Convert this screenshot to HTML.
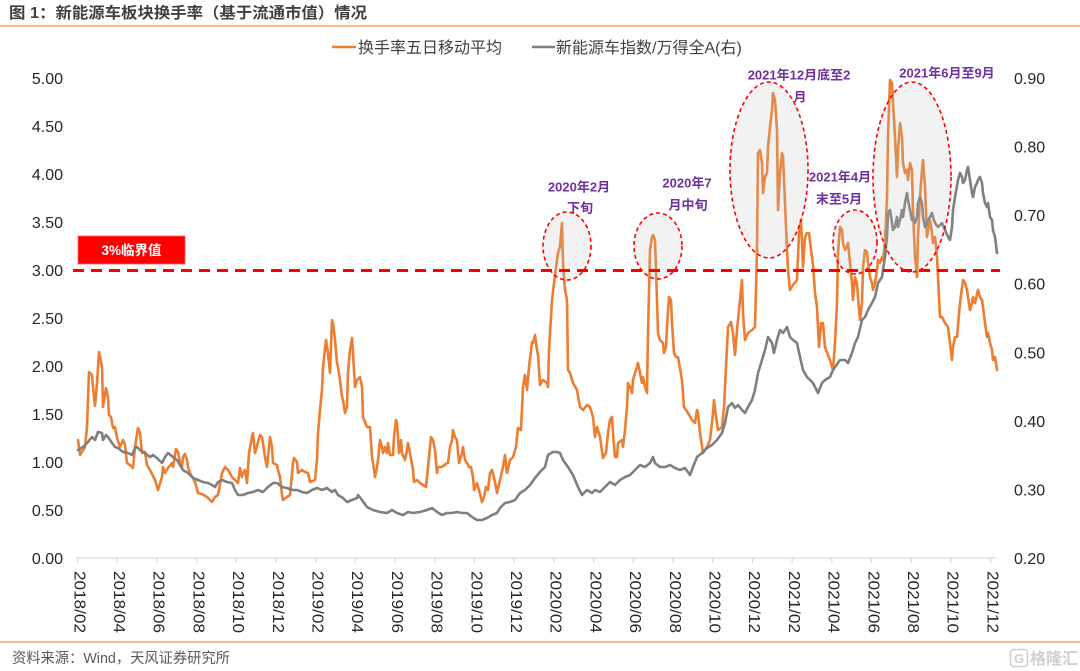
<!DOCTYPE html>
<html>
<head>
<meta charset="utf-8">
<style>
html,body{margin:0;padding:0;background:#fff;}
svg{display:block;}
text{font-family:"Liberation Sans","Noto Sans CJK SC",sans-serif;}
</style>
</head>
<body>
<svg width="1080" height="671" viewBox="0 0 1080 671" xmlns="http://www.w3.org/2000/svg">
<rect x="0" y="0" width="1080" height="671" fill="#fff"/>
<!-- title -->
<text x="9" y="18" font-size="15.5" font-weight="bold" fill="#404040" textLength="358" lengthAdjust="spacingAndGlyphs">图 1：新能源车板块换手率（基于流通市值）情况</text>
<line x1="0" y1="26" x2="1080" y2="26" stroke="#F5A862" stroke-width="1.5"/>
<!-- legend -->
<line x1="332" y1="47" x2="356" y2="47" stroke="#ED7D31" stroke-width="2.5"/>
<text x="358" y="53" font-size="16" fill="#404040">换手率五日移动平均</text>
<line x1="532" y1="47" x2="555" y2="47" stroke="#7F7F7F" stroke-width="2.5"/>
<text x="556" y="53" font-size="16" fill="#404040">新能源车指数/万得全A(右)</text>
<!-- left axis -->
<g font-size="16" fill="#262626" text-anchor="end">
<text x="63" y="84">5.00</text>
<text x="63" y="132">4.50</text>
<text x="63" y="180">4.00</text>
<text x="63" y="228">3.50</text>
<text x="63" y="276">3.00</text>
<text x="63" y="324">2.50</text>
<text x="63" y="372">2.00</text>
<text x="63" y="420">1.50</text>
<text x="63" y="468">1.00</text>
<text x="63" y="516">0.50</text>
<text x="63" y="564">0.00</text>
</g>
<!-- right axis -->
<g font-size="16" fill="#262626" text-anchor="start">
<text x="1014" y="84">0.90</text>
<text x="1014" y="152.6">0.80</text>
<text x="1014" y="221.1">0.70</text>
<text x="1014" y="289.7">0.60</text>
<text x="1014" y="358.3">0.50</text>
<text x="1014" y="426.9">0.40</text>
<text x="1014" y="495.4">0.30</text>
<text x="1014" y="564">0.20</text>
</g>
<!-- x axis -->
<line x1="76" y1="558" x2="996" y2="558" stroke="#D9D9D9" stroke-width="1.2"/>
<g stroke="#D9D9D9" stroke-width="1.2">
<line x1="77.5" y1="558" x2="77.5" y2="563"/><line x1="117.2" y1="558" x2="117.2" y2="563"/><line x1="156.9" y1="558" x2="156.9" y2="563"/><line x1="196.6" y1="558" x2="196.6" y2="563"/><line x1="236.3" y1="558" x2="236.3" y2="563"/><line x1="276" y1="558" x2="276" y2="563"/><line x1="315.7" y1="558" x2="315.7" y2="563"/><line x1="355.4" y1="558" x2="355.4" y2="563"/><line x1="395.1" y1="558" x2="395.1" y2="563"/><line x1="434.8" y1="558" x2="434.8" y2="563"/><line x1="474.5" y1="558" x2="474.5" y2="563"/><line x1="514.2" y1="558" x2="514.2" y2="563"/><line x1="553.9" y1="558" x2="553.9" y2="563"/><line x1="593.6" y1="558" x2="593.6" y2="563"/><line x1="633.3" y1="558" x2="633.3" y2="563"/><line x1="673" y1="558" x2="673" y2="563"/><line x1="712.7" y1="558" x2="712.7" y2="563"/><line x1="752.4" y1="558" x2="752.4" y2="563"/><line x1="792.1" y1="558" x2="792.1" y2="563"/><line x1="831.8" y1="558" x2="831.8" y2="563"/><line x1="871.5" y1="558" x2="871.5" y2="563"/><line x1="911.2" y1="558" x2="911.2" y2="563"/><line x1="950.9" y1="558" x2="950.9" y2="563"/><line x1="990.6" y1="558" x2="990.6" y2="563"/>
</g>
<g font-size="16" fill="#262626">
<text transform="translate(80,571) rotate(90)" y="5.7" textLength="62" lengthAdjust="spacingAndGlyphs">2018/02</text>
<text transform="translate(119.7,571) rotate(90)" y="5.7" textLength="62" lengthAdjust="spacingAndGlyphs">2018/04</text>
<text transform="translate(159.4,571) rotate(90)" y="5.7" textLength="62" lengthAdjust="spacingAndGlyphs">2018/06</text>
<text transform="translate(199.1,571) rotate(90)" y="5.7" textLength="62" lengthAdjust="spacingAndGlyphs">2018/08</text>
<text transform="translate(238.8,571) rotate(90)" y="5.7" textLength="62" lengthAdjust="spacingAndGlyphs">2018/10</text>
<text transform="translate(278.5,571) rotate(90)" y="5.7" textLength="62" lengthAdjust="spacingAndGlyphs">2018/12</text>
<text transform="translate(318.2,571) rotate(90)" y="5.7" textLength="62" lengthAdjust="spacingAndGlyphs">2019/02</text>
<text transform="translate(357.9,571) rotate(90)" y="5.7" textLength="62" lengthAdjust="spacingAndGlyphs">2019/04</text>
<text transform="translate(397.6,571) rotate(90)" y="5.7" textLength="62" lengthAdjust="spacingAndGlyphs">2019/06</text>
<text transform="translate(437.3,571) rotate(90)" y="5.7" textLength="62" lengthAdjust="spacingAndGlyphs">2019/08</text>
<text transform="translate(477,571) rotate(90)" y="5.7" textLength="62" lengthAdjust="spacingAndGlyphs">2019/10</text>
<text transform="translate(516.7,571) rotate(90)" y="5.7" textLength="62" lengthAdjust="spacingAndGlyphs">2019/12</text>
<text transform="translate(556.4,571) rotate(90)" y="5.7" textLength="62" lengthAdjust="spacingAndGlyphs">2020/02</text>
<text transform="translate(596.1,571) rotate(90)" y="5.7" textLength="62" lengthAdjust="spacingAndGlyphs">2020/04</text>
<text transform="translate(635.8,571) rotate(90)" y="5.7" textLength="62" lengthAdjust="spacingAndGlyphs">2020/06</text>
<text transform="translate(675.5,571) rotate(90)" y="5.7" textLength="62" lengthAdjust="spacingAndGlyphs">2020/08</text>
<text transform="translate(715.2,571) rotate(90)" y="5.7" textLength="62" lengthAdjust="spacingAndGlyphs">2020/10</text>
<text transform="translate(754.9,571) rotate(90)" y="5.7" textLength="62" lengthAdjust="spacingAndGlyphs">2020/12</text>
<text transform="translate(794.6,571) rotate(90)" y="5.7" textLength="62" lengthAdjust="spacingAndGlyphs">2021/02</text>
<text transform="translate(834.3,571) rotate(90)" y="5.7" textLength="62" lengthAdjust="spacingAndGlyphs">2021/04</text>
<text transform="translate(874,571) rotate(90)" y="5.7" textLength="62" lengthAdjust="spacingAndGlyphs">2021/06</text>
<text transform="translate(913.7,571) rotate(90)" y="5.7" textLength="62" lengthAdjust="spacingAndGlyphs">2021/08</text>
<text transform="translate(953.4,571) rotate(90)" y="5.7" textLength="62" lengthAdjust="spacingAndGlyphs">2021/10</text>
<text transform="translate(993.1,571) rotate(90)" y="5.7" textLength="62" lengthAdjust="spacingAndGlyphs">2021/12</text>
</g>
<!-- orange series -->
<polyline fill="none" stroke="#ED7D31" stroke-width="2.6" stroke-linejoin="round" stroke-linecap="round" points="78,440 80,455 85,447 87,427 89,372 92,375 93,387 95,406 97,383 99,352 102,367 103,407 106,388 108,397 109,415 111,417 113,428 115,427 117,438 120,447 123,440 125,445 127,463 130,465 133,468 135,447 138,428 140,433 142,453 145,452 147,465 150,470 155,480 158,490 162,477 163,467 165,473 168,468 172,463 173,467 176,449 178,452 180,462 182,467 183,457 185,454 187,460 188,467 190,473 193,478 195,482 198,493 202,494 207,497 210,500 212,502 215,497 218,495 222,473 225,467 228,470 232,477 235,480 238,483 240,468 242,477 243,473 245,470 247,483 249,453 252,437 253,433 255,453 258,442 260,435 262,437 265,457 267,467 270,437 272,447 273,463 277,465 278,470 280,477 282,495 283,500 287,497 290,495 293,463 294,458 297,462 298,473 302,470 305,472 308,473 310,482 315,480 317,460 318,433 320,410 322,390 323,367 326,340 328,353 330,373 332,320 333,323 335,340 337,363 338,367 340,380 342,397 343,400 345,413 347,407 348,373 350,350 352,338 353,353 355,387 357,380 360,377 362,387 363,417 367,427 370,427 372,457 373,463 375,477 377,467 378,460 380,440 382,447 383,453 385,447 387,453 388,443 390,455 393,455 394,437 396,420 397,423 399,453 401,440 402,453 405,460 407,450 408,443 410,453 413,470 414,482 417,480 420,483 423,485 426,487 427,477 430,447 431,437 433,440 435,450 437,473 438,467 442,467 447,463 448,463 450,447 452,440 453,430 455,437 457,440 459,463 462,453 463,447 465,460 467,463 469,467 471,467 473,477 474,490 477,483 479,490 482,502 484,497 486,487 488,490 490,473 492,470 495,482 497,493 500,480 503,467 505,455 507,473 510,460 513,457 516,447 518,428 521,430 523,387 525,375 527,390 529,367 532,342 533,343 535,335 537,350 538,355 540,385 543,380 547,383 548,387 549,350 552,300 555,275 558,253 560,247 562,223 563,263 565,290 567,300 568,370 570,373 573,383 577,390 580,407 583,410 587,405 590,407 593,417 595,437 597,427 600,437 603,458 606,453 608,433 610,420 612,417 613,433 615,457 617,457 618,443 622,440 623,447 625,430 627,407 628,383 630,387 632,393 633,380 635,373 637,367 638,363 640,373 642,383 643,377 645,387 647,393 648,333 650,250 652,237 653,235 655,240 657,300 658,333 660,340 663,343 664,353 666,347 667,327 669,297 671,300 672,323 674,353 676,357 678,357 682,380 684,407 688,413 692,420 695,423 697,410 698,413 700,433 703,453 707,447 710,440 713,413 714,400 716,417 718,430 722,427 724,407 726,367 728,327 731,322 733,333 735,355 737,330 738,320 740,300 742,280 743,313 745,340 748,333 752,330 755,327 757,250 758,153 760,150 762,163 763,193 765,177 767,173 768,147 770,127 772,110 773,93 775,100 777,130 778,210 780,173 782,153 783,157 785,203 787,250 788,270 790,290 793,285 797,280 799,233 801,220 803,267 805,237 807,233 809,233 811,250 813,265 815,293 817,307 819,347 821,323 823,323 825,347 828,355 830,360 832,367 833,370 835,343 837,303 838,253 840,227 842,230 843,243 845,250 847,247 848,243 850,263 852,283 853,300 855,277 857,283 858,297 860,320 862,303 863,267 865,250 867,252 868,263 870,277 872,283 873,290 875,283 877,270 878,260 880,263 882,257 883,260 885,243 887,197 888,137 890,80 892,83 893,103 895,137 897,177 898,150 900,123 902,137 903,163 905,173 907,170 908,180 910,163 912,170 913,210 915,257 917,277 918,237 920,197 922,170 923,160 925,187 927,237 928,230 930,220 932,233 933,243 935,237 937,257 938,277 940,317 942,317 945,323 948,327 950,343 952,360 953,347 955,337 957,337 960,303 963,280 965,283 967,290 968,297 970,310 972,303 973,297 975,303 978,290 980,297 982,300 983,307 985,323 987,337 988,333 990,343 992,350 993,360 995,357 997,370"/>
<!-- gray series -->
<polyline fill="none" stroke="#7F7F7F" stroke-width="2.6" stroke-linejoin="round" stroke-linecap="round" points="78,450 83,447 88,442 92,437 95,440 98,432 102,433 103,440 106,435 108,437 112,443 115,447 118,448 123,452 128,453 132,455 135,448 137,447 140,450 145,453 150,457 153,455 157,458 162,463 165,457 168,453 173,457 177,460 180,465 183,470 188,473 193,478 198,480 203,482 208,483 212,485 215,487 218,482 222,480 227,482 232,483 235,490 238,495 243,495 248,493 253,492 258,490 263,492 268,487 273,483 277,483 282,487 287,488 292,490 297,490 302,492 307,493 312,490 317,488 322,490 327,488 332,492 335,490 338,495 343,498 347,502 352,500 357,498 358,495 362,500 367,507 373,510 380,512 387,513 392,510 397,513 403,515 408,512 413,513 420,512 427,510 432,508 437,512 442,515 447,513 452,513 457,512 462,513 467,513 472,517 477,520 482,520 487,518 492,515 497,513 500,508 505,503 510,502 515,500 520,493 525,490 530,485 535,478 540,472 545,467 548,455 553,452 557,452 560,453 563,460 568,467 573,475 578,487 582,495 587,490 592,493 595,490 600,492 605,487 610,482 615,485 620,480 625,477 630,475 635,470 640,465 645,467 650,463 653,457 655,463 660,467 665,467 670,465 675,468 680,470 685,468 690,475 693,467 697,457 702,453 707,448 712,445 717,440 722,433 725,423 728,407 732,403 735,408 738,405 742,410 745,413 748,407 752,400 755,390 758,373 762,360 765,350 768,337 772,343 774,353 777,340 780,330 783,333 787,327 790,337 793,340 797,343 800,357 803,370 807,377 810,380 813,383 818,393 822,383 825,380 830,377 833,370 840,360 845,360 848,363 852,353 855,343 858,337 862,320 865,317 868,310 872,303 875,297 878,283 882,277 883,270 885,257 887,237 888,213 890,210 892,223 893,230 895,227 897,217 898,227 900,220 902,210 903,217 905,203 907,193 908,200 910,210 912,220 913,217 915,223 917,217 918,203 920,197 922,203 923,217 925,227 927,223 928,220 930,217 932,213 933,217 935,223 938,227 942,223 945,230 948,237 950,240 952,227 953,210 955,197 958,180 960,173 962,177 963,183 965,180 967,170 968,167 970,180 972,193 973,197 975,187 977,183 978,180 980,177 982,183 983,193 985,203 987,207 988,203 990,217 992,220 993,230 995,237 997,253"/>
<!-- ellipses -->
<g fill="#BFBFBF" fill-opacity="0.2" stroke="#FF0000" stroke-width="1.6" stroke-dasharray="4 3">
<ellipse cx="567" cy="246" rx="24" ry="34"/>
<ellipse cx="658" cy="246" rx="24" ry="33"/>
<ellipse cx="769" cy="170" rx="39" ry="88"/>
<ellipse cx="855" cy="242" rx="22" ry="32"/>
<ellipse cx="912" cy="177" rx="39" ry="95"/>
</g>
<!-- 3% line -->
<line x1="73" y1="270.5" x2="1000" y2="270.5" stroke="#FF0000" stroke-width="3" stroke-dasharray="11 7"/>
<rect x="78" y="236" width="107" height="28" fill="#FF0000" stroke="#FF6666" stroke-width="0.8"/>
<text x="131.5" y="255" font-size="13.5" font-weight="bold" fill="#fff" text-anchor="middle">3%临界值</text>
<!-- annotations -->
<g font-size="13" font-weight="bold" fill="#7030A0" text-anchor="middle">
<text x="579" y="191.5">2020年2月</text>
<text x="580" y="212.5">下旬</text>
<text x="687" y="187.5">2020年7</text>
<text x="688" y="209.5">月中旬</text>
<text x="799" y="79.5">2021年12月底至2</text>
<text x="800" y="101.5">月</text>
<text x="840" y="181.5">2021年4月</text>
<text x="839" y="203.5">末至5月</text>
<text x="947" y="77.5">2021年6月至9月</text>
</g>
<!-- footer -->
<line x1="0" y1="642" x2="1080" y2="642" stroke="#F5A862" stroke-width="1.5"/>
<text x="12" y="663" font-size="14.5" fill="#595959" textLength="218" lengthAdjust="spacingAndGlyphs">资料来源：Wind，天风证券研究所</text>
<!-- watermark -->
<rect x="1010.5" y="649.5" width="17" height="17" rx="3" fill="none" stroke="#CFCFCF" stroke-width="1.5"/>
<text x="1019" y="663" font-size="13" font-weight="bold" fill="#CFCFCF" text-anchor="middle">G</text>
<text x="1030" y="664" font-size="16" font-weight="bold" fill="#CFCFCF">格隆汇</text>
</svg>
</body>
</html>
